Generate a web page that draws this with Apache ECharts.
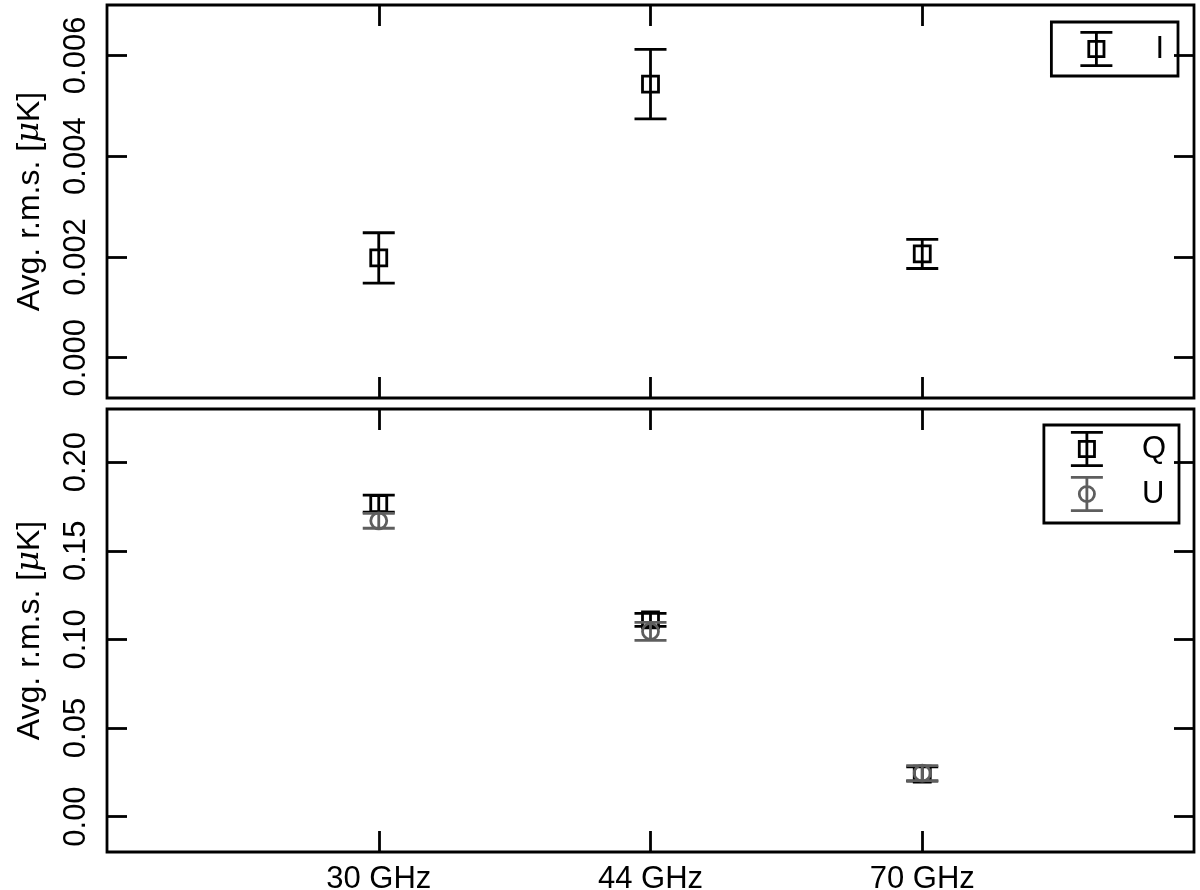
<!DOCTYPE html>
<html>
<head>
<meta charset="utf-8">
<script src="https://cdn.jsdelivr.net/npm/echarts@6/dist/echarts.min.js"></script>
<style>html,body{margin:0;padding:0;background:#fff;}#c{width:1200px;height:890px;}</style>
</head>
<body>
<div id="c"></div>
<script>
// ---- data ----
const categories = ['30 GHz', '44 GHz', '70 GHz'];
const xPositions = [1, 2, 3];
const iValues = [0.00198, 0.00543, 0.00206];
const iErrors = [0.00050, 0.00069, 0.00029];
const qValues = [0.1766, 0.1110, 0.0240];
const qErrors = [0.0048, 0.0037, 0.0040];
const uValues = [0.1669, 0.1045, 0.0245];
const uErrors = [0.0042, 0.0051, 0.0042];
const topTicks = [0, 0.002, 0.004, 0.006];
const bottomTicks = [0, 0.05, 0.10, 0.15, 0.20];

const FONT = '"Liberation Sans", Arial, Helvetica, sans-serif';
const BLACK = '#000000';
const GRAY = '#5e5e5e';
const LW = 2.8;
const FS = 31;

function rows(vals, errs) { return vals.map((v, i) => [xPositions[i], v, errs[i]]); }

function makeRender(shape, color) {
  return function (params, api) {
    const x = api.value(0), v = api.value(1), e = api.value(2);
    const pc = api.coord([x, v]);
    const pt = api.coord([x, v + e]);
    const pb = api.coord([x, v - e]);
    const hw = 16;
    const st = { stroke: color, lineWidth: LW, fill: null };
    const children = [
      { type: 'line', shape: { x1: pc[0], y1: pt[1], x2: pc[0], y2: pb[1] }, style: st },
      { type: 'line', shape: { x1: pc[0] - hw, y1: pt[1], x2: pc[0] + hw, y2: pt[1] }, style: st },
      { type: 'line', shape: { x1: pc[0] - hw, y1: pb[1], x2: pc[0] + hw, y2: pb[1] }, style: st }
    ];
    if (shape === 'square') {
      children.push({ type: 'rect', shape: { x: pc[0] - 8, y: pc[1] - 8, width: 16, height: 16 }, style: { stroke: color, lineWidth: LW, fill: 'none' } });
    } else {
      children.push({ type: 'circle', shape: { cx: pc[0], cy: pc[1], r: 8 }, style: { stroke: color, lineWidth: LW, fill: 'none' } });
    }
    return { type: 'group', children: children };
  };
}

const iconSquare = 'path://M0 0L32 0L32 2.8L0 2.8Z M0 33.2L32 33.2L32 36L0 36Z M14.6 2.8L17.4 2.8L17.4 33.2L14.6 33.2Z M7 9L25 9L25 27L7 27Z M9.8 11.8L9.8 24.2L22.2 24.2L22.2 11.8Z';
const iconCircle = 'path://M0 0L32 0L32 2.8L0 2.8Z M0 33.2L32 33.2L32 36L0 36Z M14.6 2.8L17.4 2.8L17.4 33.2L14.6 33.2Z M7 18A9 9 0 1 1 25 18A9 9 0 1 1 7 18Z M9.8 18A6.2 6.2 0 1 0 22.2 18A6.2 6.2 0 1 0 9.8 18Z';

const chart = echarts.init(document.getElementById('c'), null, { renderer: 'canvas' });

function yAxisPair(gridIndex, min, max, ticks, digits) {
  const base = {
    gridIndex: gridIndex, type: 'value', min: min, max: max,
    splitLine: { show: false },
    axisLine: { show: false, onZero: false },
    axisTick: { show: true, inside: true, length: 20, customValues: ticks, lineStyle: { color: BLACK, width: LW } }
  };
  return [
    Object.assign({}, base, {
      position: 'left',
      name: '{a|Avg. r.m.s. [}{i|μ}{a|K]}',
      nameLocation: 'middle',
      nameGap: 61,
      nameRotate: 90,
      nameTextStyle: {
        rich: {
          a: { fontFamily: FONT, fontSize: 32, color: BLACK },
          i: { fontFamily: '"DejaVu Serif", serif', fontStyle: 'italic', fontSize: 32, color: BLACK }
        }
      },
      axisLabel: {
        show: true, customValues: ticks, rotate: 90, margin: 15,
        fontFamily: FONT, fontSize: FS, color: BLACK,
        formatter: v => Number(v).toFixed(digits)
      }
    }),
    Object.assign({}, base, { position: 'right', axisLabel: { show: false } })
  ];
}

function xAxisPair(gridIndex, withLabels) {
  const base = {
    gridIndex: gridIndex, type: 'value', min: 0, max: 4,
    splitLine: { show: false },
    axisLine: { show: false, onZero: false },
    axisTick: { show: true, inside: true, length: 21, customValues: xPositions, lineStyle: { color: BLACK, width: LW } }
  };
  return [
    Object.assign({}, base, {
      position: 'bottom',
      axisLabel: {
        show: withLabels, customValues: xPositions, margin: 12,
        fontFamily: FONT, fontSize: FS, color: BLACK,
        formatter: v => categories[xPositions.indexOf(Math.round(v))] || ''
      }
    }),
    Object.assign({}, base, { position: 'top', axisLabel: { show: false } })
  ];
}

const option = {
  animation: false,
  backgroundColor: '#ffffff',
  grid: [
    { left: 107, right: 6, top: 5, height: 393, show: true, borderColor: BLACK, borderWidth: LW, backgroundColor: 'transparent', containLabel: false, outerBoundsMode: 'none' },
    { left: 107, right: 6, top: 409, height: 443, show: true, borderColor: BLACK, borderWidth: LW, backgroundColor: 'transparent', containLabel: false, outerBoundsMode: 'none' }
  ],
  xAxis: [].concat(xAxisPair(0, false), xAxisPair(1, true)),
  yAxis: [].concat(yAxisPair(0, -0.0008, 0.007, topTicks, 3), yAxisPair(1, -0.02, 0.23, bottomTicks, 2)),
  legend: [
    {
      data: [{ name: 'I', icon: iconSquare }],
      right: 22, top: 22,
      itemWidth: 32, itemHeight: 36,
      padding: [9, 14, 9, 29],
      borderColor: BLACK, borderWidth: LW,
      textStyle: { fontFamily: FONT, fontSize: FS, color: BLACK, padding: [0, 0, 0, 38] },
      selectedMode: false
    },
    {
      data: [{ name: 'Q', icon: iconSquare }, { name: 'U', icon: iconCircle }],
      orient: 'vertical',
      right: 21, top: 425,
      itemWidth: 32, itemHeight: 36, itemGap: 9,
      padding: [6, 13, 11, 27],
      borderColor: BLACK, borderWidth: LW,
      textStyle: { fontFamily: FONT, fontSize: FS, color: BLACK, padding: [0, 0, 0, 34] },
      selectedMode: false
    }
  ],
  series: [
    { name: 'I', type: 'custom', xAxisIndex: 0, yAxisIndex: 0, itemStyle: { color: BLACK },
      renderItem: makeRender('square', BLACK), encode: { x: 0, y: 1 }, data: rows(iValues, iErrors) },
    { name: 'Q', type: 'custom', xAxisIndex: 2, yAxisIndex: 2, itemStyle: { color: BLACK },
      renderItem: makeRender('square', BLACK), encode: { x: 0, y: 1 }, data: rows(qValues, qErrors) },
    { name: 'U', type: 'custom', xAxisIndex: 2, yAxisIndex: 2, itemStyle: { color: GRAY },
      renderItem: makeRender('circle', GRAY), encode: { x: 0, y: 1 }, data: rows(uValues, uErrors) }
  ]
};
chart.setOption(option);
</script>
</body>
</html>
